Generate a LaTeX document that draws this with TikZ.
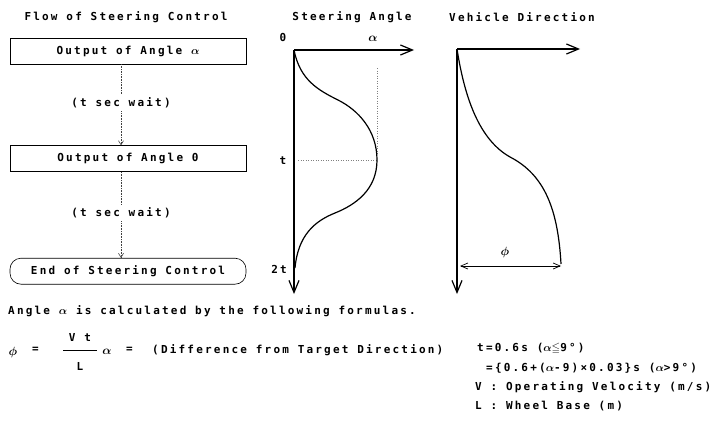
\documentclass[tikz,border=0pt]{standalone}
\usepackage{amssymb}
\usepackage{fontspec}
\setmainfont{DejaVu Sans Mono}
\newfontfamily\diafont[LetterSpace=20]{DejaVu Sans Mono}
\usetikzlibrary{arrows.meta,positioning}
\newcommand{\alp}{{\boldmath$\alpha$}}

\begin{document}
\begin{tikzpicture}[x=1pt, y=-1pt, >={Straight Barb[length=4pt,width=5pt]},
    every node/.style={font=\diafont\bfseries\fontsize{11}{13}\selectfont},
    flowbox/.style={rectangle, draw, line width=0.6pt, minimum width=236pt, minimum height=26pt, inner sep=0pt},
    waitlabel/.style={inner sep=3pt},
    flowline/.style={densely dotted, line width=0.6pt, black!75},
    axis/.style={line width=1.4pt, -{Straight Barb[length=12pt,width=10pt,line width=1.2pt]}},
    curve/.style={line width=1.2pt},
    helpline/.style={dotted, line width=0.5pt, black!50},
    sym/.style={font=\fontsize{13}{15}\selectfont\boldmath},
    txt/.style={anchor=west, inner sep=0pt}]
    \path[fill=white] (0,0) rectangle (725,428);
    \useasboundingbox (0,0) rectangle (725,428);

    % Flow of steering control
    \node (flowtitle) at (126,17) {Flow of Steering Control};
    \node (out1) [flowbox] at (128,51) {Output of Angle \alp\hspace{16pt}};
    \node (out0) [flowbox, below=81pt of out1] {Output of Angle 0\hspace{16pt}};
    \node (endbox) [flowbox, rounded corners=11pt, below=86pt of out0] {End of Steering Control\hspace{20pt}};
    \node (wait1) [waitlabel] at (121,103) {(t sec wait)};
    \node (wait2) [waitlabel] at (121,213) {(t sec wait)};

    \draw[flowline] (out1.south -| wait1) -- (wait1.north);
    \draw[flowline, ->] (wait1.south) -- (out0.north -| wait1);
    \draw[flowline] (out0.south -| wait2) -- (wait2.north);
    \draw[flowline, ->] (wait2.south) -- (endbox.north -| wait2);

    % Steering angle graph
    \node (satitle) at (352,17) {Steering Angle};
    \coordinate (sa0) at (294,50);
    \coordinate (saX) at (414,50);
    \coordinate (saY) at (294,294);
    \coordinate (sapeak) at (377,160);
    \node (lab0) at (283,37) {0};
    \node (labalpha) [sym] at (373,39) {$\alpha$};
    \node (labt) at (283,161) {t};
    \node (lab2t) at (279,269) {2t};
    \draw[helpline] (298,160) -- (sapeak);
    \draw[helpline] (377,68) -- (377,154);
    \draw[axis] (sa0) -- (saX);
    \draw[axis] (sa0) -- (saY);
    \draw[curve] (sa0) .. controls (300,80) and (318,90) .. (338,100)
        .. controls (358,110) and (377,130) .. (sapeak)
        .. controls (377,190) and (355,205) .. (335,213)
        .. controls (315,221) and (298,235) .. (295,268);

    % Vehicle direction graph
    \node (vdtitle) at (522,17) {Vehicle Direction};
    \coordinate (vd0) at (457,49);
    \coordinate (vdX) at (580,49);
    \coordinate (vdY) at (457,294);
    \coordinate (vdend) at (561,264);
    \draw[axis] (vd0) -- (vdX);
    \draw[axis] (vd0) -- (vdY);
    \draw[curve] (vd0) .. controls (465,100) and (480,140) .. (510,157)
        .. controls (545,175) and (558,210) .. (vdend);
    \coordinate (phiL) at (460,266);
    \coordinate (phiR) at (vdend |- phiL);
    \draw[line width=0.7pt, {Straight Barb[length=7pt,width=6pt]}-{Straight Barb[length=7pt,width=6pt]}] (phiL) -- (phiR);
    \node (labphi) [sym] at (505,252) {$\phi$};

    % Formulas
    \node (intro) [txt] at (8,311) {Angle \alp{} is calculated by the following formulas.};
    \node (fphi) [sym] at (13,352) {$\phi$};
    \node (feq1) [txt] at (32,350) {=};
    \node (fnum) at (80,337) {V t};
    \node (fden) at (80,366) {L};
    \draw[line width=0.7pt] (63,350) -- (97,350);
    \node (falpha) [sym] at (107,352) {$\alpha$};
    \node (feq2) [txt] at (126,350) {=};
    \node (fdiff) [txt] at (152,350) {(Difference from Target Direction)};
    \node (tsmall) [txt] at (477,349) {t=0.6s (\alp$\leqq$9°)};
    \node (tlarge) [txt] at (486,368) {=\{0.6+(\alp-9)×0.03\}s (\alp>9°)};
    \node (vdef) [txt] at (475,387) {V : Operating Velocity (m/s)};
    \node (ldef) [txt] at (475,406) {L : Wheel Base (m)};
\end{tikzpicture}
\end{document}
